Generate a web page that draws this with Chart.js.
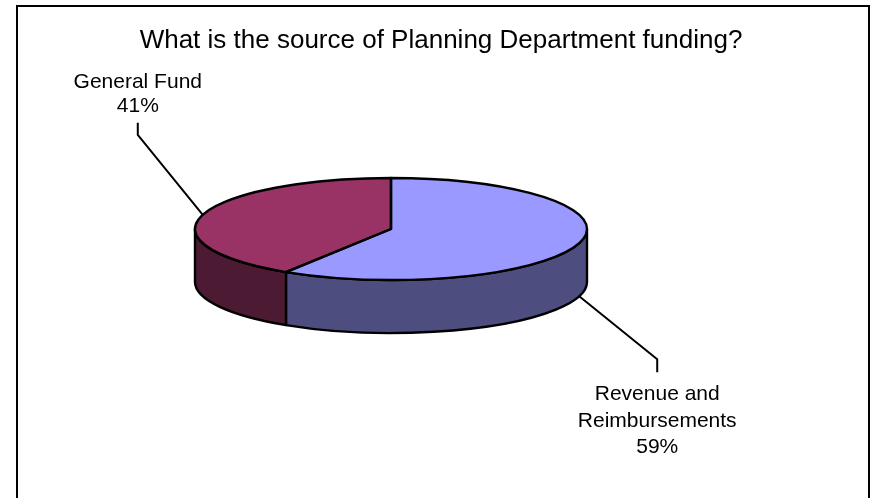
<!DOCTYPE html>
<html>
<head>
<meta charset="utf-8">
<script src="https://cdn.jsdelivr.net/npm/chart.js@4/dist/chart.umd.min.js"></script>
<style>
  html, body { margin: 0; padding: 0; background: #fff; overflow: hidden; }
  #frame { position: absolute; left: 16px; top: 5px; width: 850px; height: 600px; border: 2px solid #000; }
  #wrap { position: absolute; left: 0; top: 0; width: 871px; height: 498px; }
</style>
</head>
<body>
<div id="frame"></div>
<div id="wrap"><canvas id="c" width="871" height="498"></canvas></div>
<script>
// Funding sources, in clockwise order from twelve o'clock
const TITLE = 'What is the source of Planning Department funding?';
const categories = ['Revenue and Reimbursements', 'General Fund'];
const shares = [59, 41];
const labelLines = [['Revenue and', 'Reimbursements'], ['General Fund']];
const topColors = ['#9999FF', '#993366'];
const sideColors = ['#4D4D80', '#4D1A33'];

const DEPTH = 53;            // thickness of the tilted disc
const FONT = "'Liberation Sans', Arial, sans-serif";
// leader line elbow offset from the slice anchor; dir: +1 label below, -1 label above
const leaders = [
  { dx: 78, dy: 63, tick: 13, dir: 1, gap: 22, lineH: 26.5 },
  { dx: -65, dy: -80, tick: 12, dir: -1, gap: 17, lineH: 24 }
];

function geometry(chart) {
  const a = chart.chartArea;
  const rx = (a.right - a.left) / 2;
  const ry = (a.bottom - a.top - DEPTH) / 2;
  return { cx: (a.left + a.right) / 2, cy: a.top + ry, rx, ry };
}

const pie3d = {
  id: 'pie3d',
  beforeDatasetsDraw(chart) {
    const ctx = chart.ctx;
    const g = geometry(chart);
    const arcs = chart.getDatasetMeta(0).data;

    // side walls of the slices facing the viewer
    ctx.save();
    ctx.lineWidth = 2.4;
    ctx.strokeStyle = '#000';
    ctx.lineJoin = 'round';
    arcs.forEach((arc, i) => {
      const s = arc.startAngle, e = arc.endAngle;
      for (let k = -1; k <= 1; k++) {
        const lo = Math.max(s, 2 * Math.PI * k);
        const hi = Math.min(e, 2 * Math.PI * k + Math.PI);
        if (hi <= lo) continue;
        ctx.beginPath();
        ctx.ellipse(g.cx, g.cy, g.rx, g.ry, 0, lo, hi, false);
        ctx.lineTo(g.cx + g.rx * Math.cos(hi), g.cy + g.ry * Math.sin(hi) + DEPTH);
        ctx.ellipse(g.cx, g.cy + DEPTH, g.rx, g.ry, 0, hi, lo, true);
        ctx.closePath();
        ctx.fillStyle = sideColors[i];
        ctx.fill();
        ctx.stroke();
      }
    });
    ctx.restore();

    // top faces: the chart's own arcs, tilted into an ellipse
    const first = arcs[0];
    const R = first.outerRadius;
    ctx.save();
    ctx.translate(g.cx, g.cy);
    ctx.scale(g.rx / R, g.ry / R);
    ctx.translate(-first.x, -first.y);
  },
  afterDatasetsDraw(chart) {
    const ctx = chart.ctx;
    ctx.restore();
    const g = geometry(chart);
    const arcs = chart.getDatasetMeta(0).data;
    const total = shares.reduce((a, b) => a + b, 0);

    ctx.save();
    ctx.strokeStyle = '#000';
    ctx.lineJoin = 'round';
    ctx.lineWidth = 2.4;
    arcs.forEach(arc => {
      ctx.beginPath();
      ctx.moveTo(g.cx, g.cy);
      ctx.ellipse(g.cx, g.cy, g.rx, g.ry, 0, arc.startAngle, arc.endAngle, false);
      ctx.closePath();
      ctx.stroke();
    });

    // data labels with leader lines
    ctx.font = '21px ' + FONT;
    ctx.fillStyle = '#000';
    ctx.textAlign = 'center';
    ctx.textBaseline = 'middle';
    ctx.lineWidth = 2;
    arcs.forEach((arc, i) => {
      const mid = (arc.startAngle + arc.endAngle) / 2;
      const front = Math.sin(mid) > 0;
      const ax = g.cx + g.rx * Math.cos(mid);
      const ay = g.cy + g.ry * Math.sin(mid) + (front ? DEPTH : 0);
      const L = leaders[i];
      const ex = ax + L.dx, ey = ay + L.dy;
      const tx = ex, ty = ey + L.dir * L.tick;
      ctx.beginPath();
      ctx.moveTo(ax, ay);
      ctx.lineTo(ex, ey);
      ctx.lineTo(tx, ty);
      ctx.stroke();

      const lines = labelLines[i].concat([Math.round(shares[i] / total * 100) + '%']);
      const n = lines.length;
      lines.forEach((t, j) => {
        const y = L.dir > 0
          ? ty + L.gap + j * L.lineH
          : ty - L.gap - (n - 1 - j) * L.lineH;
        ctx.fillText(t, tx, y);
      });
    });

    // chart title
    ctx.font = '26px ' + FONT;
    ctx.fillText(TITLE, 441, 41);
    ctx.restore();
  }
};

new Chart(document.getElementById('c'), {
  type: 'pie',
  data: {
    labels: categories,
    datasets: [{
      data: shares,
      backgroundColor: topColors,
      borderWidth: 0,
      hoverOffset: 0,
      clip: false
    }]
  },
  options: {
    responsive: false,
    animation: false,
    events: [],
    rotation: 0,
    layout: { padding: { left: 195, right: 284, top: 178, bottom: 165 } },
    plugins: {
      legend: { display: false },
      tooltip: { enabled: false },
      title: { display: false }
    }
  },
  plugins: [pie3d]
});
</script>
</body>
</html>
